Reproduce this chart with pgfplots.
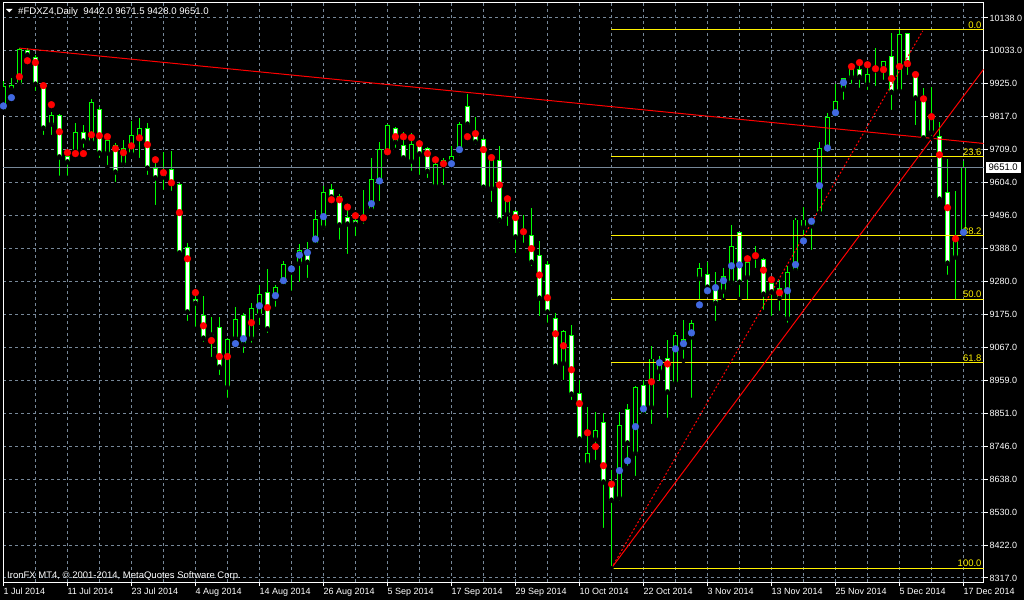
\documentclass[border=0pt]{standalone}
\usepackage{pgfplots}
\pgfplotsset{compat=1.18}
\usepackage{pgfplotstable}
\usepackage{fontspec}
\setmainfont{Liberation Sans}
\newcommand\tf{\fontsize{9}{10}\selectfont}
\newcommand\hf{\fontsize{9.5}{10}\selectfont}

\definecolor{gridc}{RGB}{119,136,153}
\definecolor{candle}{RGB}{0,255,0}
\definecolor{dotblue}{RGB}{65,105,225}

% daily bars: index, open, high, low, close, indicator dot, dot colour
\pgfplotstableread{
i o h l c d u
0 9839 9933 9829 9914 9852 b
1 9907 9943 9894 9917 9879 b
2 9923 10040 9910 10034 9947 r
3 10032 10040 10014 10018 9999 r
4 10011 10018 9894 9923 9993 r
5 9917 9927 9751 9780 9918 r
6 9793 9832 9751 9822 9856 r
7 9822 9826 9618 9686 9768 r
8 9689 9709 9618 9670 9700 r
9 9705 9797 9692 9767 9697 r
10 9767 9790 9709 9738 9697 r
11 9735 9875 9731 9862 9758 r
12 9839 9849 9676 9699 9755 r
13 9699 9751 9653 9738 9752 r
14 9722 9731 9598 9637 9713 r
15 9663 9741 9644 9712 9700 r
16 9696 9803 9696 9757 9722 r
17 9748 9813 9676 9780 9748 r
18 9777 9797 9621 9650 9726 r
19 9650 9676 9523 9618 9677 r
20 9621 9702 9572 9634 9635 r
21 9644 9705 9569 9601 9602 r
22 9598 9601 9361 9374 9505 r
23 9393 9406 9146 9182 9355 r
24 9224 9237 9127 9211 9245 r
25 9172 9234 9078 9097 9137 r
26 9110 9166 9029 9107 9089 r
27 9130 9166 8970 9003 9037 r
28 8938 9097 8896 9094 9037 r
29 9097 9198 9084 9159 9079 b
30 9172 9179 9042 9078 9095 b
31 9097 9211 9075 9192 9147 r
32 9172 9270 9133 9240 9202 b
33 9244 9322 9107 9127 9196 r
34 9227 9270 9192 9263 9235 b
35 9270 9348 9263 9335 9284 b
36 9312 9335 9244 9328 9322 b
37 9341 9403 9273 9383 9367 b
38 9383 9410 9286 9344 9375 b
39 9403 9514 9403 9484 9419 b
40 9458 9592 9442 9572 9492 b
41 9579 9598 9546 9556 9547 r
42 9556 9566 9410 9465 9547 r
43 9488 9520 9364 9468 9523 r
44 9478 9507 9422 9468 9495 r
45 9484 9579 9462 9481 9488 r
46 9514 9683 9510 9614 9534 b
47 9605 9735 9536 9709 9608 b
48 9702 9793 9686 9787 9703 r
49 9780 9783 9709 9735 9752 r
50 9722 9767 9670 9683 9752 r
51 9673 9764 9634 9728 9749 r
52 9725 9741 9621 9696 9729 r
53 9712 9718 9611 9640 9697 r
54 9592 9686 9588 9663 9677 r
55 9657 9683 9588 9676 9664 r
56 9673 9722 9653 9686 9664 b
57 9699 9800 9683 9790 9710 b
58 9849 9891 9780 9793 9752 r
59 9761 9816 9718 9735 9762 r
60 9744 9748 9572 9588 9710 r
61 9585 9686 9533 9679 9684 r
62 9676 9722 9465 9481 9595 r
63 9501 9553 9455 9540 9550 r
64 9510 9514 9367 9426 9489 r
65 9449 9497 9400 9442 9443 r
66 9432 9520 9325 9344 9388 r
67 9364 9413 9162 9227 9302 r
68 9335 9348 9140 9182 9228 r
69 9162 9179 9003 9006 9111 r
70 9016 9123 8954 9117 9072 r
71 9104 9140 8889 8915 8994 r
72 8918 8961 8756 8769 8884 r
73 8688 8873 8675 8723 8789 r
74 8769 8857 8694 8795 8744 r
75 8824 8853 8473 8629 8682 r
76 8613 8668 8349 8570 8622 r
77 8577 8857 8561 8814 8666 b
78 8866 8883 8675 8756 8698 b
79 8723 8941 8642 8935 8809 b
80 8944 8961 8837 8850 8867 b
81 8873 9071 8811 9029 8955 r
82 8990 9039 8951 9013 9017 b
83 9032 9091 8831 8922 9013 r
84 8951 9117 8948 9107 9062 b
85 9068 9156 9023 9094 9079 b
86 9101 9156 8896 9146 9114 b
87 9292 9341 9214 9322 9205 b
88 9305 9344 9237 9263 9251 b
89 9253 9312 9146 9211 9261 b
90 9250 9325 9221 9296 9284 b
91 9279 9465 9263 9396 9332 b
92 9439 9442 9224 9279 9335 b
93 9296 9361 9214 9344 9355 r
94 9370 9396 9318 9361 9365 r
95 9351 9357 9182 9240 9318 r
96 9276 9299 9162 9247 9287 r
97 9257 9286 9179 9227 9245 r
98 9162 9331 9140 9309 9251 b
99 9318 9488 9312 9481 9336 b
100 9458 9523 9422 9481 9413 b
101 9478 9488 9377 9462 9477 b
102 9504 9735 9504 9715 9593 b
103 9702 9829 9702 9813 9715 b
104 9816 9923 9813 9865 9830 b
105 9907 9943 9865 9940 9928 b
106 9946 9992 9917 9969 9980 r
107 9969 9992 9904 9946 9993 r
108 9923 9985 9897 9953 9986 r
109 9975 10040 9910 9969 9973 r
110 9975 9998 9930 9995 9970 r
111 10014 10089 9832 9897 9941 r
112 9901 10099 9901 10083 9980 r
113 10086 10089 9946 9992 9989 r
114 9949 9962 9783 9878 9954 r
115 9868 9910 9735 9748 9875 r
116 9767 9914 9748 9810 9817 r
117 9751 9800 9540 9549 9693 r
118 9569 9679 9296 9341 9521 r
119 9361 9575 9214 9419 9420 r
120 9442 9671.5 9428 9651 9441 b
}\ohlc

\pgfplotsset{
  bars/.style={only marks, mark=none,
    error bars/.cd, y dir=plus, y explicit, error mark=none,
    error bar style={#1}},
}
\tikzset{fiblabel/.style={anchor=south east, inner sep=1pt, text=yellow, font=\hf}}

\begin{document}
\begin{tikzpicture}
\fill[black] (0,0) rectangle (1024pt,600pt);
\begin{axis}[
    at={(3pt,18pt)}, anchor=south west,
    scale only axis, width=980.5pt, height=579pt,
    xmin=-0.05, xmax=122.5, ymin=8303.8, ymax=10186.7,
    axis line style={white, line width=1pt},
    xtick={0,8,...,120},
    xticklabels={1 Jul 2014,11 Jul 2014,23 Jul 2014,4 Aug 2014,14 Aug 2014,
      26 Aug 2014,5 Sep 2014,17 Sep 2014,29 Sep 2014,10 Oct 2014,22 Oct 2014,
      3 Nov 2014,13 Nov 2014,25 Nov 2014,5 Dec 2014,17 Dec 2014},
    minor xtick={4,12,...,116},
    ytick={8317,8422,8530,8638,8746,8851,8959,9067,9175,9280,9388,9496,9604,9709,9817,9925,10033,10138},
    yticklabels={8317.0,8422.0,8530.0,8638.0,8746.0,8851.0,8959.0,9067.0,9175.0,
      9280.0,9388.0,9496.0,9604.0,9709.0,9817.0,9925.0,10033.0,10138.0},
    xtick pos=left, ytick pos=right, yticklabel pos=right,
    tick align=outside, major tick length=4pt, minor tick length=0pt,
    tick style={white, line width=1pt},
    grid=both,
    major grid style={gridc, line width=1pt, dash pattern=on 3pt off 3pt},
    minor grid style={gridc, line width=1pt, dash pattern=on 3pt off 3pt},
    /pgf/number format/assume math mode=true,
    xticklabel style={anchor=north west, inner sep=0pt, font=\tf, text=white, yshift=-2pt},
    yticklabel style={anchor=west, inner sep=0pt, font=\tf, text=white, xshift=2pt},
  ]
% wicks
\addplot[bars={candle, line width=1pt}]
  table[x=i, y=l, y error plus expr={\thisrow{h}-\thisrow{l}}] {\ohlc};
% body outlines
\addplot[bars={candle, line width=5pt}]
  table[x=i, y expr={min(\thisrow{o},\thisrow{c})-1.6},
        y error plus expr={abs(\thisrow{c}-\thisrow{o})+3.2}] {\ohlc};
% bull bodies black, bear bodies white (the other kind is pushed above the axis)
\addplot[bars={black, line width=3pt}]
  table[x=i, y expr={\thisrow{c}>=\thisrow{o} ? \thisrow{o}+1.6 : 20000},
        y error plus expr={\thisrow{c}-\thisrow{o}-3.2}] {\ohlc};
\addplot[bars={white, line width=3pt}]
  table[x=i, y expr={\thisrow{c}<\thisrow{o} ? \thisrow{c}+1.6 : 20000},
        y error plus expr={\thisrow{o}-\thisrow{c}-3.2}] {\ohlc};

% current price line
\addplot[gridc, line width=1pt] coordinates {(-0.05,9651) (122.5,9651)};

% fibonacci retracement from the 16 Oct low to the 5 Dec high
\pgfplotsinvokeforeach{10099,9686,9430.5,9224,9017.5,8349}{
  \addplot[yellow, line width=1pt] coordinates {(76,#1) (122.5,#1)};
}
\node[fiblabel] at (axis cs:122.4,10099) {0.0};
\node[fiblabel] at (axis cs:122.4,9686) {23.6};
\node[fiblabel] at (axis cs:122.4,9430.5) {38.2};
\node[fiblabel] at (axis cs:122.4,9224) {50.0};
\node[fiblabel] at (axis cs:122.4,9017.5) {61.8};
\node[fiblabel] at (axis cs:122.4,8349) {100.0};

% trend lines
\addplot[red, line width=1pt] coordinates {(2,10040) (122.5,9730)};
\addplot[red, line width=1pt] coordinates {(76,8349) (122.5,9971)};
\addplot[red, line width=1pt, dash pattern=on 2pt off 2pt] coordinates {(76,8349) (114.9,10096)};

% indicator dots
\addplot[scatter, only marks, mark size=3.4pt, scatter src=explicit symbolic,
  scatter/classes={r={mark=*,red}, b={mark=*,dotblue}}]
  table[x=i, y=d, meta=u] {\ohlc};

\coordinate (last) at (axis cs:122.5,9651);
\end{axis}
\node[anchor=west, fill=white, text=black, inner xsep=3pt, inner ysep=2pt, font=\hf, xshift=2pt] at (last) {9651.0};
\fill[white] (6pt,591pt) -- (12.5pt,591pt) -- (9.25pt,587.5pt) -- cycle;
\node[anchor=base west, inner sep=0pt, text=white, font=\fontsize{9.6}{10}\selectfont] at (18pt,585pt)
  {\#FDXZ4,Daily\ \ 9442.0 9671.5 9428.0 9651.0};
\node[anchor=base west, inner sep=0pt, text=white, font=\hf] at (7pt,22pt)
  {IronFX MT4, © 2001-2014, MetaQuotes Software Corp.};
\pgfresetboundingbox
\path (0,0) rectangle (1024pt,600pt);
\end{tikzpicture}
\end{document}
